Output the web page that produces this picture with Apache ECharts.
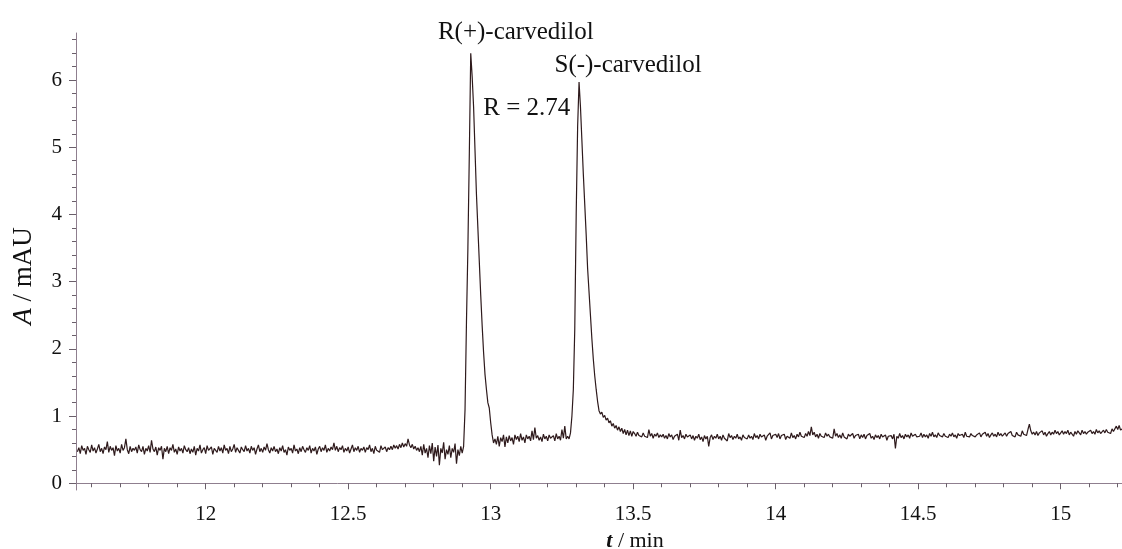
<!DOCTYPE html>
<html>
<head>
<meta charset="utf-8">
<script src="https://cdn.jsdelivr.net/npm/echarts@6/dist/echarts.min.js"></script>
<style>
html,body{margin:0;padding:0;background:#fff;}
#chart{width:1122px;height:549px;}
</style>
</head>
<body>
<div id="chart"></div>
<script>
// ---------------- DATA ----------------
const sampleStep = 0.005;              // detector sampling interval (min)

const baselineAStart = 11.55;          // baseline before R(+) peak
const baselineA = [
  0.47,0.53,0.44,0.56,0.49,0.52,0.43,0.55,0.50,0.46,0.57,0.48,0.53,0.45,0.51,0.58,0.47,0.52,0.44,0.54,
  0.50,0.62,0.46,0.55,0.49,0.53,0.41,0.56,0.48,0.52,0.45,0.58,0.49,0.53,0.66,0.50,0.44,0.55,0.47,0.52,
  0.49,0.54,0.45,0.57,0.50,0.47,0.55,0.43,0.52,0.48,0.56,0.46,0.64,0.51,0.47,0.54,0.42,0.53,0.49,0.55,
  0.36,0.52,0.47,0.55,0.44,0.53,0.49,0.58,0.46,0.51,0.43,0.54,0.48,0.52,0.45,0.56,0.50,0.47,0.53,0.44,
  0.51,0.46,0.55,0.42,0.52,0.48,0.57,0.45,0.50,0.53,0.44,0.56,0.49,0.47,0.54,0.43,0.52,0.50,0.46,0.55,
  0.48,0.53,0.45,0.57,0.49,0.52,0.44,0.55,0.47,0.51,0.58,0.46,0.53,0.49,0.45,0.54,0.50,0.47,0.56,0.48,
  0.52,0.45,0.55,0.49,0.53,0.43,0.51,0.57,0.47,0.52,0.46,0.54,0.49,0.59,0.50,0.45,0.53,0.48,0.55,0.47,
  0.51,0.44,0.53,0.48,0.56,0.46,0.50,0.42,0.54,0.49,0.52,0.45,0.57,0.48,0.51,0.44,0.53,0.47,0.55,0.50,
  0.46,0.53,0.49,0.56,0.45,0.52,0.48,0.54,0.43,0.51,0.55,0.47,0.53,0.49,0.57,0.46,0.52,0.48,0.54,0.50,
  0.60,0.49,0.55,0.47,0.53,0.50,0.56,0.46,0.52,0.48,0.54,0.45,0.51,0.57,0.47,0.53,0.49,0.55,0.46,0.52,
  0.49,0.54,0.46,0.53,0.50,0.57,0.47,0.52,0.44,0.55,0.49,0.51,0.46,0.56,0.50,0.48,0.54,0.47,0.53,0.50,
  0.55,0.50,0.57,0.52,0.56,0.51,0.58,0.53,0.60,0.54,0.59,0.55,0.66,0.57,0.53,0.58,0.51,0.55,0.49,0.53,
  0.47,0.55,0.42,0.58,0.45,0.52,0.38,0.56,0.44,0.60,0.33,0.54,0.40,0.57,0.27,0.52,0.45,0.61,0.36,0.50,
  0.43,0.56,0.38,0.52,0.46,0.59,0.29,0.50,0.41,0.55
];

const peak1Times  = [12.900,12.905,12.910,12.915,12.920,12.925,12.930,12.935,12.940,12.945,12.950,12.955,12.960,12.965,12.970,12.975,12.980,12.985,12.990,12.995,13.000,13.005,13.010];
const peak1Values = [0.45,0.55,1.10,2.40,3.50,4.90,6.40,6.05,5.60,4.95,4.30,3.80,3.30,2.80,2.35,1.95,1.62,1.40,1.20,1.12,0.90,0.72,0.60];

const baselineCStart = 13.015;         // baseline between the peaks
const baselineC = [
  0.66,0.58,0.70,0.55,0.68,0.62,0.72,0.54,0.69,0.60,
  0.71,0.63,0.68,0.58,0.72,0.65,0.70,0.62,0.74,0.64,
  0.69,0.60,0.72,0.66,0.70,0.63,0.78,0.65,0.83,0.67,
  0.71,0.64,0.69,0.62,0.73,0.66,0.70,0.63,0.72,0.67,
  0.65,0.71,0.63,0.74,0.66,0.70,0.64,0.80,0.67,0.85,
  0.66,0.70
];

const peak2Times  = [13.275,13.280,13.285,13.290,13.295,13.300,13.305,13.310,13.315,13.320,13.325,13.330,13.335,13.340,13.345,13.350,13.355,13.360,13.365,13.370,13.375,
                     13.380,13.385,13.390,13.395,13.400,13.405,13.410,13.415,13.420,13.425,13.430,13.435,13.440,13.445,13.450,13.455,13.460,13.465,13.470,13.475,13.480,13.485,13.490,13.495,13.500];
const peak2Values = [0.66,0.75,1.00,1.40,2.30,4.00,5.30,5.97,5.60,5.10,4.60,4.15,3.70,3.20,2.85,2.50,2.15,1.85,1.60,1.40,1.22,
                     1.08,1.03,1.06,0.98,1.01,0.94,0.97,0.90,0.93,0.85,0.89,0.82,0.86,0.79,0.84,0.77,0.82,0.74,0.80,0.72,0.79,0.71,0.78,0.70,0.77];

const baselineEStart = 13.505;         // baseline after S(-) peak
const baselineE = [
  0.74,0.70,0.76,0.71,0.73,0.69,0.75,0.70,0.72,0.68,0.80,0.70,0.74,0.67,0.73,0.70,0.75,0.68,0.72,0.69,
  0.73,0.67,0.71,0.66,0.74,0.69,0.72,0.65,0.70,0.68,0.73,0.64,0.79,0.68,0.71,0.66,0.73,0.69,0.67,0.72,
  0.66,0.71,0.64,0.70,0.67,0.73,0.65,0.69,0.62,0.71,0.66,0.70,0.55,0.68,0.72,0.65,0.70,0.67,0.73,0.66,
  0.70,0.64,0.72,0.67,0.69,0.63,0.74,0.68,0.71,0.65,0.70,0.67,0.73,0.66,0.69,0.64,0.72,0.68,0.70,0.66,
  0.72,0.67,0.70,0.65,0.74,0.68,0.71,0.66,0.73,0.69,0.67,0.72,0.64,0.70,0.68,0.75,0.66,0.71,0.69,0.73,
  0.68,0.74,0.66,0.71,0.69,0.73,0.65,0.70,0.72,0.67,0.75,0.68,0.71,0.66,0.73,0.69,0.76,0.70,0.72,0.68,
  0.74,0.70,0.77,0.71,0.84,0.72,0.76,0.69,0.73,0.67,0.74,0.70,0.72,0.68,0.75,0.70,0.73,0.69,0.71,0.67,
  0.81,0.70,0.74,0.68,0.72,0.67,0.75,0.69,0.71,0.66,0.73,0.70,0.68,0.74,0.67,0.71,0.69,0.73,0.66,0.72,
  0.68,0.73,0.66,0.71,0.69,0.74,0.67,0.70,0.65,0.72,0.68,0.71,0.66,0.73,0.69,0.67,0.72,0.64,0.70,0.68,
  0.71,0.66,0.73,0.52,0.70,0.67,0.74,0.68,0.71,0.66,0.73,0.69,0.72,0.67,0.75,0.70,0.68,0.73,0.69,0.71,
  0.70,0.75,0.68,0.73,0.69,0.72,0.67,0.74,0.70,0.76,0.69,0.72,0.68,0.75,0.71,0.73,0.69,0.74,0.70,0.72,
  0.68,0.73,0.70,0.75,0.69,0.72,0.67,0.74,0.71,0.70,0.73,0.68,0.76,0.70,0.72,0.69,0.74,0.71,0.73,0.69,
  0.72,0.70,0.75,0.69,0.73,0.71,0.76,0.70,0.74,0.68,0.72,0.75,0.70,0.73,0.69,0.76,0.71,0.74,0.70,0.72,
  0.75,0.70,0.74,0.72,0.77,0.71,0.73,0.69,0.76,0.72,0.74,0.70,0.78,0.73,0.75,0.71,0.80,0.88,0.78,0.73,
  0.76,0.72,0.77,0.71,0.75,0.73,0.78,0.72,0.76,0.70,0.74,0.77,0.72,0.76,0.73,0.79,0.74,0.77,0.72,0.75,
  0.78,0.73,0.77,0.74,0.79,0.72,0.76,0.74,0.70,0.77,0.73,0.78,0.75,0.72,0.79,0.74,0.77,0.73,0.76,0.75,
  0.79,0.74,0.77,0.73,0.80,0.75,0.78,0.74,0.76,0.79,0.75,0.80,0.76,0.78,0.74,0.81,0.77,0.79,0.85,0.80,
  0.86,0.79,0.81
];

const xMajorTicks = [12, 12.5, 13, 13.5, 14, 14.5, 15];
const xMinorTicks = [11.6,11.7,11.8,11.9,12.1,12.2,12.3,12.4,12.6,12.7,12.8,12.9,13.1,13.2,13.3,13.4,
                     13.6,13.7,13.8,13.9,14.1,14.2,14.3,14.4,14.6,14.7,14.8,14.9,15.1,15.2];
const yMajorTicks = [0, 1, 2, 3, 4, 5, 6];
const yMinorTicks = [0.2,0.4,0.6,0.8,1.2,1.4,1.6,1.8,2.2,2.4,2.6,2.8,3.2,3.4,3.6,3.8,
                     4.2,4.4,4.6,4.8,5.2,5.4,5.6,5.8,6.2,6.4,6.6];

const peakLabels = ['R(+)-carvedilol', 'S(-)-carvedilol'];
const peakApexTimes = [12.93, 13.31];
const peakApexValues = [6.40, 5.97];
const resolutionText = 'R = 2.74';

// ------------- build series -------------
function sampled(start, vals) {
  return vals.map((v, i) => [+(start + i * sampleStep).toFixed(4), v]);
}
function paired(ts, vs) { return ts.map((t, i) => [t, vs[i]]); }

const trace = [].concat(
  sampled(baselineAStart, baselineA),
  paired(peak1Times, peak1Values),
  sampled(baselineCStart, baselineC),
  paired(peak2Times, peak2Values),
  sampled(baselineEStart, baselineE)
);

const FONT = '"Liberation Serif", "Times New Roman", serif';
const X_MIN = 11.545, X_MAX = 15.215, Y_MIN = -0.1, Y_MAX = 6.7;
const gridBox = { left: 76, right: 0, top: 33, bottom: 59, containLabel: false, outerBoundsMode: 'none' };

const chart = echarts.init(document.getElementById('chart'), null, { renderer: 'canvas' });

const labelStyle = { fontFamily: FONT, fontSize: 25, color: '#111' };

chart.setOption({
  animation: false,
  backgroundColor: '#fff',
  grid: [Object.assign({}, gridBox), Object.assign({}, gridBox)],
  xAxis: [{
    type: 'value', gridIndex: 0, min: X_MIN, max: X_MAX,
    name: '{i|t} / min', nameLocation: 'middle', nameGap: 31,
    nameTextStyle: { fontFamily: FONT, fontSize: 22, color: '#111', padding: [0, 0, 0, 72],
      rich: { i: { fontFamily: FONT, fontSize: 22, fontStyle: 'italic', fontWeight: 'bold', color: '#111' } } },
    axisLine: { show: true, lineStyle: { color: '#8f7f8f', width: 1 } },
    axisTick: { show: true, length: 6, customValues: xMajorTicks, lineStyle: { color: '#6a5f6a' } },
    axisLabel: { show: true, customValues: xMajorTicks, margin: 14, fontFamily: FONT, fontSize: 21, color: '#111' },
    splitLine: { show: false }
  }, {
    type: 'value', gridIndex: 1, min: X_MIN, max: X_MAX,
    axisLine: { show: false },
    axisTick: { show: true, length: 4, customValues: xMinorTicks, lineStyle: { color: '#6a5f6a' } },
    axisLabel: { show: false },
    splitLine: { show: false }
  }],
  yAxis: [{
    type: 'value', gridIndex: 0, min: Y_MIN, max: Y_MAX,
    name: '{i|A} / mAU', nameLocation: 'middle', nameGap: 39,
    nameTextStyle: { fontFamily: FONT, fontSize: 27, color: '#111', padding: [0, 29, 0, 0],
      rich: { i: { fontFamily: FONT, fontSize: 27, fontStyle: 'italic', color: '#111' } } },
    axisLine: { show: true, lineStyle: { color: '#8f7f8f', width: 1 } },
    axisTick: { show: true, length: 7, customValues: yMajorTicks, lineStyle: { color: '#6a5f6a' } },
    axisLabel: { show: true, customValues: yMajorTicks, margin: 14, fontFamily: FONT, fontSize: 21, color: '#111' },
    splitLine: { show: false }
  }, {
    type: 'value', gridIndex: 1, min: Y_MIN, max: Y_MAX,
    axisLine: { show: false },
    axisTick: { show: true, length: 4, customValues: yMinorTicks, lineStyle: { color: '#6a5f6a' } },
    axisLabel: { show: false },
    splitLine: { show: false }
  }],
  series: [{
    type: 'line',
    xAxisIndex: 0, yAxisIndex: 0,
    data: trace,
    showSymbol: false,
    symbol: 'none',
    sampling: false,
    lineStyle: { color: '#2e1a1c', width: 1.2 },
    z: 3,
    markPoint: {
      symbol: 'circle', symbolSize: 0, silent: true,
      label: Object.assign({ show: true, position: 'inside' }, labelStyle),
      data: [
        { coord: [peakApexTimes[0], peakApexValues[0]], label: Object.assign({ show: true, position: 'inside', formatter: peakLabels[0], offset: [45, -21] }, labelStyle) },
        { coord: [peakApexTimes[1], peakApexValues[1]], label: Object.assign({ show: true, position: 'inside', formatter: peakLabels[1], offset: [49, -17] }, labelStyle) },
        { coord: [peakApexTimes[0], peakApexValues[0]], label: Object.assign({ show: true, position: 'inside', formatter: resolutionText, offset: [56, 55] }, labelStyle) }
      ]
    }
  }]
});
</script>
</body>
</html>
